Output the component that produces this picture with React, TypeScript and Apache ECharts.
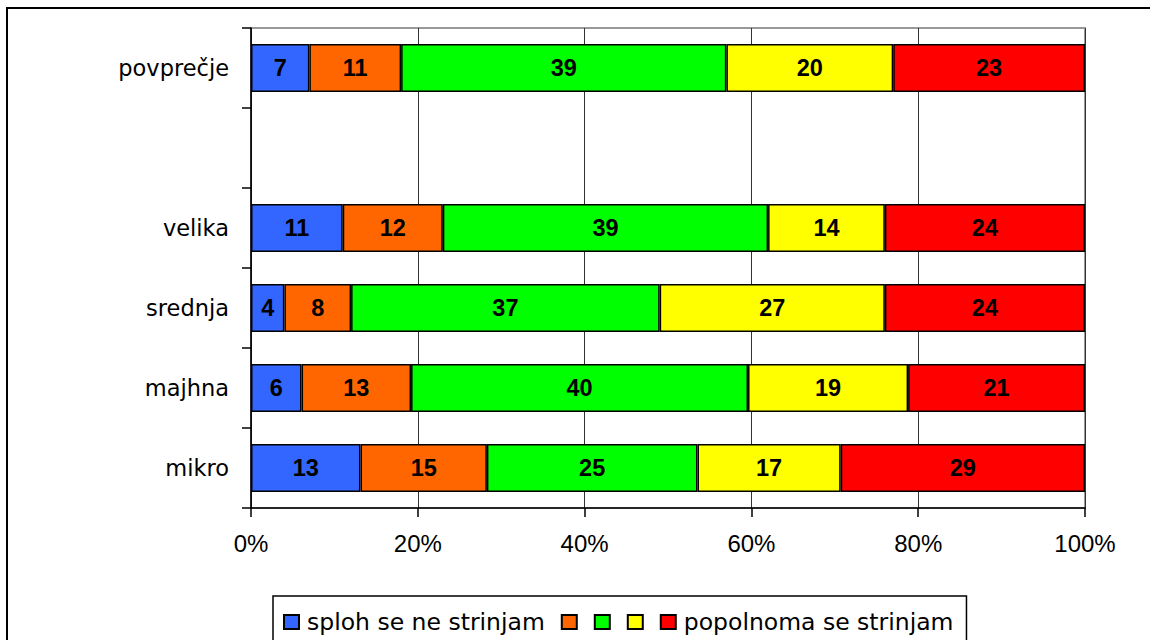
import React, { useEffect, useRef } from "react";
import * as echarts from "echarts";

const categories = ["mikro", "majhna", "srednja", "velika", "", "povprečje"];
const seriesNames = ["sploh se ne strinjam", "s2", "s3", "s4", "popolnoma se strinjam"];
const legendLabels: Record<string, string> = {
  "sploh se ne strinjam": "sploh se ne strinjam",
  s2: "",
  s3: "",
  s4: "",
  "popolnoma se strinjam": "popolnoma se strinjam",
};
const colors = ["#3366FF", "#FF6600", "#00FF00", "#FFFF00", "#FF0000"];

// values per category order: mikro, majhna, srednja, velika, (gap), povprečje
const val1 = [13, 6, 4, 11, null, 7];
const val2 = [15, 13, 8, 12, null, 11];
const val3 = [25, 40, 37, 39, null, 39];
const val4 = [17, 19, 27, 14, null, 20];
const val5 = [29, 21, 24, 24, null, 23];
const allValues = [val1, val2, val3, val4, val5];

const xTicks = [0, 20, 40, 60, 80, 100];

const FONT = "'Liberation Sans', Arial, sans-serif";
const WIDE = "'DejaVu Sans', 'Liberation Sans', sans-serif";

export default function App() {
  const ref = useRef<HTMLDivElement>(null);
  useEffect(() => {
    if (!ref.current) return;
    const chart = echarts.init(ref.current, null, { renderer: "svg" });
    const totals = categories.map((_, i) =>
      allValues.reduce((s, arr) => s + (arr[i] == null ? 0 : (arr[i] as number)), 0)
    );
    const series = allValues.map((arr, si) => ({
      name: seriesNames[si],
      type: "bar",
      stack: "total",
      barWidth: 48,
      itemStyle: { color: colors[si], borderColor: "#000", borderWidth: 1.5 },
      label: {
        show: true,
        position: "inside",
        fontFamily: FONT,
        fontWeight: "bold",
        fontSize: 23.5,
        color: "#000",
        formatter: (p: any) => String(arr[p.dataIndex]),
      },
      data: arr.map((v, i) =>
        v == null ? null : { value: (v / totals[i]) * 100 }
      ),
    }));
    chart.setOption({
      animation: false,
      backgroundColor: "#fff",
      textStyle: { fontFamily: FONT },
      graphic: [
        {
          type: "rect",
          shape: { x: 7, y: 8, width: 1300, height: 800 },
          style: { fill: "none", stroke: "#000", lineWidth: 2 },
          silent: true,
          z: 100,
        },
      ],
      grid: {
        left: 251,
        right: 65,
        top: 28,
        bottom: 132,
        show: true,
        borderColor: "#999",
        borderWidth: 2,
        backgroundColor: "transparent",
      },
      legend: {
        left: 273,
        top: 596,
        padding: [14, 13, 20, 10],
        itemWidth: 15,
        itemHeight: 14,
        itemGap: 16,
        icon: "rect",
        borderColor: "#000",
        borderWidth: 1.5,
        data: seriesNames,
        formatter: (name: string) => legendLabels[name],
        textStyle: { fontFamily: WIDE, fontSize: 23.5, color: "#000", padding: [0, 0, 0, 3] },
      },
      xAxis: {
        type: "value",
        min: xTicks[0],
        max: xTicks[xTicks.length - 1],
        interval: 20,
        axisLine: { show: true, lineStyle: { color: "#000", width: 1.5 } },
        axisTick: { show: true, length: 9, lineStyle: { color: "#000", width: 1.5 } },
        axisLabel: {
          formatter: "{value}%",
          fontFamily: FONT,
          fontSize: 24,
          color: "#000",
          margin: 23,
        },
        splitLine: { show: true, lineStyle: { color: "#333", width: 1 } },
      },
      yAxis: {
        type: "category",
        data: categories,
        axisLine: { show: true, lineStyle: { color: "#000", width: 1.5 } },
        axisTick: { show: true, length: 9, lineStyle: { color: "#000", width: 1.5 } },
        axisLabel: {
          fontFamily: WIDE,
          fontSize: 22.5,
          color: "#000",
          margin: 22,
        },
        splitLine: { show: false },
      },
      series,
    });
    return () => chart.dispose();
  }, []);
  return (
    <div
      ref={ref}
      style={{ position: "absolute", left: 0, top: 0, width: 1150, height: 640 }}
    />
  );
}
